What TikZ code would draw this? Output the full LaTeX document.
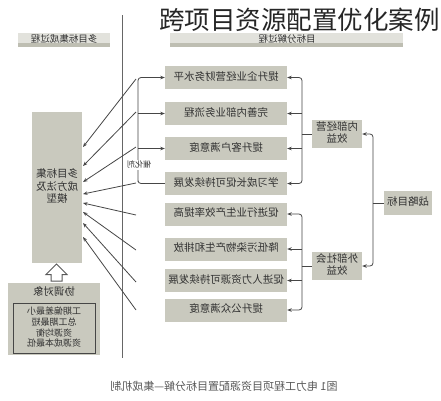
\documentclass[tikz,border=0pt]{standalone}
\usepackage{fontspec}
\setmainfont{Noto Sans CJK SC}
\usetikzlibrary{arrows.meta}
\definecolor{boxfill}{RGB}{201,201,190}
\definecolor{hdrfill}{RGB}{226,226,220}
\definecolor{hdrband}{RGB}{190,190,178}
\definecolor{txt}{RGB}{50,50,50}
\definecolor{ln}{RGB}{70,70,70}
\newcommand{\mtxt}[1]{\reflectbox{\begin{tabular}{@{}c@{}}#1\end{tabular}}}
\tikzset{
  gbox/.style={fill=boxfill, draw=none, inner sep=0pt, text=txt, font=\fontsize{10.5}{12.5}\selectfont},
  arr/.style={draw=ln, line width=0.8pt, -{Stealth[length=4.5pt,width=3.5pt]}},
  plain/.style={draw=ln, line width=0.8pt},
}
\begin{document}
\begin{tikzpicture}[x=1pt,y=-1pt]
\useasboundingbox (0,0) rectangle (441,400);
\fill[white] (0,0) rectangle (441,400);
% headers
\fill[hdrfill] (18,33) rectangle (110,47);
\fill[hdrband] (18,43) rectangle (110,47);
\node[text=txt, font=\fontsize{9.5}{10}\selectfont, inner sep=0pt] (hl) at (64,40) {\mtxt{多目标集成过程}};
\fill[hdrfill] (170,33) rectangle (403,47);
\fill[hdrband] (170,43) rectangle (403,47);
\node[text=txt, font=\fontsize{9.5}{10}\selectfont, inner sep=0pt] (hr) at (287,40) {\mtxt{目标分解过程}};
% title
\node[font=\fontsize{25.5}{27}\selectfont, text=black!85, inner sep=0pt, anchor=east] (title) at (440,20) {跨项目资源配置优化案例};
% vertical divider
\coordinate (vtop) at (122,15);
\coordinate (vbot) at (122,358);
\draw[draw=gray!80!black, line width=1pt] (vtop) -- (vbot);
% goal boxes
\foreach \n/\y/\t in {1/77.5/提升企业经营财务水平, 2/113.5/完善内部业务流程, 3/148.5/提升客户满意度, 4/183.5/学习成长促可持续发展, 5/214/促进行业生产效率提高, 6/249/降低污染物产生和排放, 7/280.5/促进人力资源可持续发展, 8/310/提升公众满意度}{
  \node[gbox, minimum width=122pt, minimum height=23pt] (g\n) at (226,\y) {\mtxt{\t}};
}
\node[gbox, minimum width=50pt, minimum height=28pt] (inner) at (337,134) {\mtxt{内部经营\\效益}};
\node[gbox, minimum width=50pt, minimum height=28pt] (outer) at (337,266) {\mtxt{外部社会\\效益}};
\node[gbox, minimum width=48pt, minimum height=24pt] (strat) at (408,203) {\mtxt{战略目标}};
\node[gbox, minimum width=50pt, minimum height=151pt] (big) at (57,187.5) {\mtxt{多目标集\\成方法及\\模型}};
% strategy bracket
\coordinate (rs) at (373,203);
\draw[plain] (strat.west) -- (rs);
\draw[arr, rounded corners=3pt] (rs) |- (inner.east);
\draw[arr, rounded corners=3pt] (rs) |- (outer.east);
% internal bracket
\coordinate (ri) at (302,134);
\draw[plain] (inner.west) -- (ri);
\draw[arr, rounded corners=3pt] (ri) |- (g1.east);
\draw[arr, rounded corners=3pt] (ri) |- (g4.east);
\draw[arr] (ri |- g2.east) -- (g2.east);
\draw[arr] (ri |- g3.east) -- (g3.east);
% external bracket
\coordinate (ro) at (302,266);
\draw[plain] (outer.west) -- (ro);
\draw[arr, rounded corners=3pt] (ro) |- (g5.east);
\draw[arr, rounded corners=3pt] (ro) |- (g8.east);
\draw[arr] (ro |- g6.east) -- (g6.east);
\draw[arr] (ro |- g7.east) -- (g7.east);
% left bracket
\coordinate (bl) at (138,130);
\draw[arr, rounded corners=3pt] (g4.west) -| (bl |- g4.west) |- (g1.west);
\draw[arr] (bl |- g2.west) -- (g2.west);
\draw[arr] (bl |- g3.west) -- (g3.west);
\node[fill=white, inner sep=0.5pt, text=txt, font=\fontsize{8}{9}\selectfont] (cat) at (139,165) {\mtxt{催化剂}};
% arrows into big box
\foreach \i/\sy/\ey in {1/79/147, 2/112/166, 3/147/182, 4/183/194, 5/215/203, 6/250/212, 7/282/223, 8/310/237}{
  \coordinate (s\i) at (136,\sy);
  \coordinate (e\i) at (83,\ey);
  \draw[arr] (s\i) -- (e\i);
}
% hollow up arrow
\draw[draw=gray!70!black, fill=white, line width=1pt, line join=miter]
  (56.5,264) -- (67,274.5) -- (62,274.5) -- (62,281) -- (51,281) -- (51,274.5) -- (46,274.5) -- cycle;
% coordination box
\node[gbox, minimum width=92pt, minimum height=72pt] (coord) at (54,319) {};
\node[text=txt, font=\fontsize{10.5}{12}\selectfont, inner sep=0pt] (coordt) at (54,293) {\mtxt{协调对象}};
\node[draw=ln, line width=1pt, fill=boxfill, minimum width=82pt, minimum height=50pt, inner sep=0pt, text=txt, font=\fontsize{9}{10.5}\selectfont] (list) at (54,328.5) {\mtxt{工期偏差最小\\总工期最短\\资源均衡\\资源成本最低}};
% caption
\node[text=gray!70!black, font=\fontsize{11}{12}\selectfont, inner sep=0pt] (cap) at (224,388) {\mtxt{图1 电力工程项目资源配置目标分解—集成机制}};
\end{tikzpicture}
\end{document}
